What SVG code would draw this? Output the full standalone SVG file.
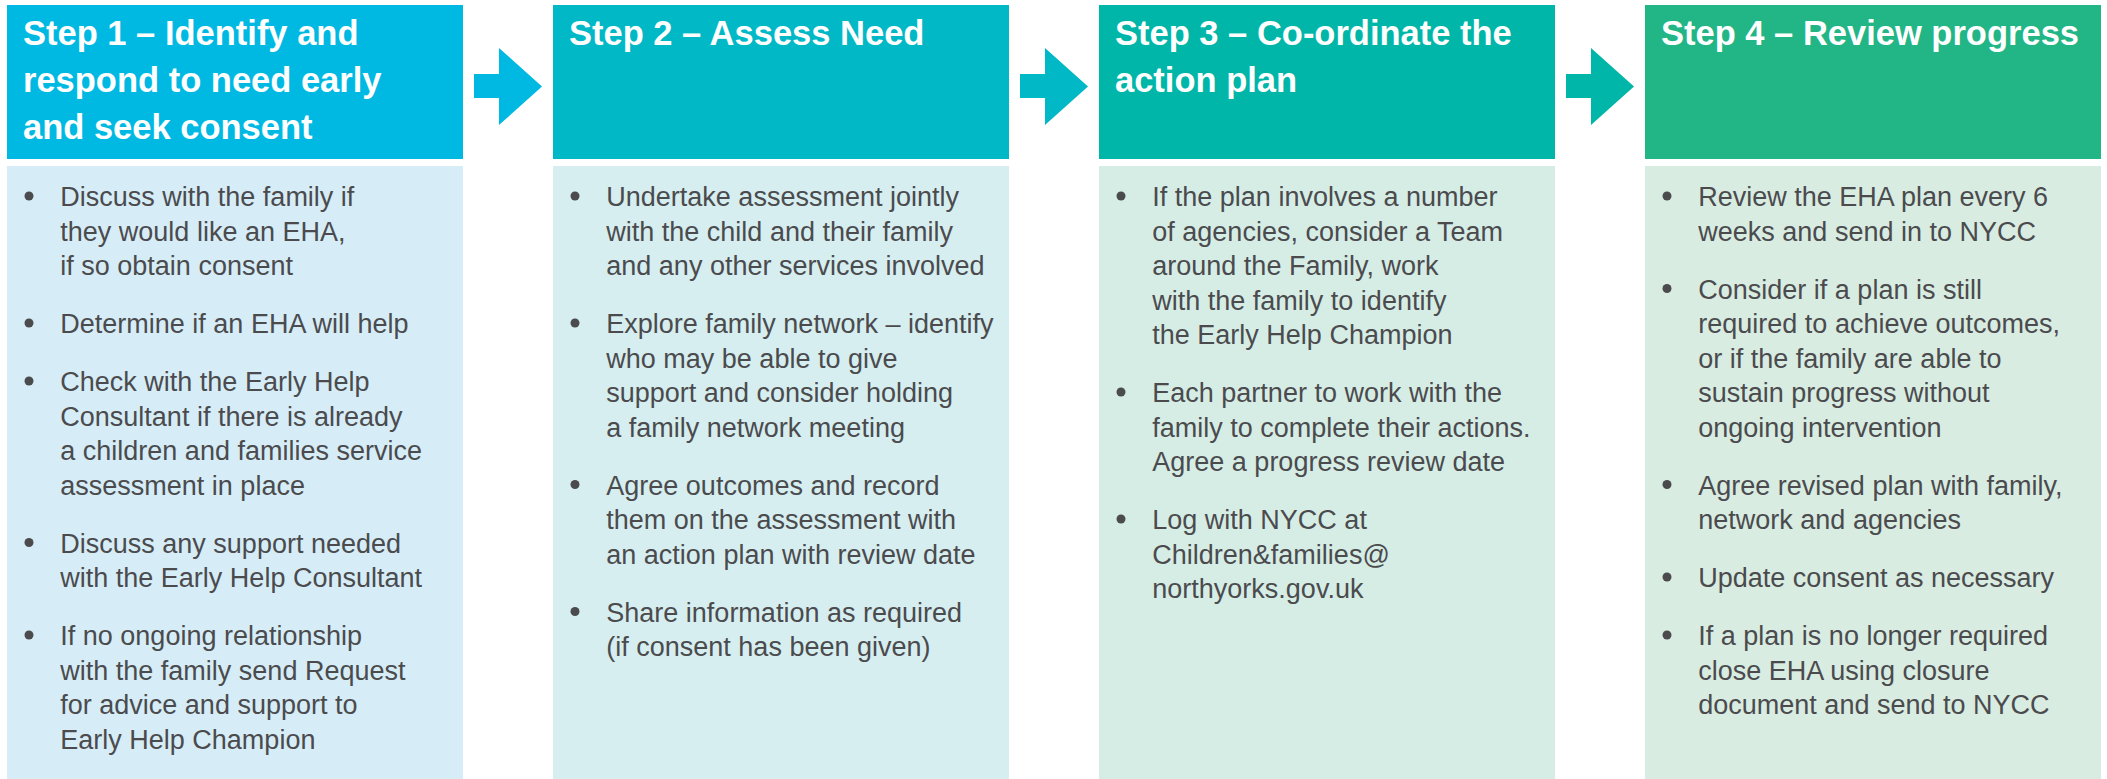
<svg xmlns="http://www.w3.org/2000/svg" width="2107" height="779" viewBox="0 0 2107 779">
<style>
.hd{font-family:"Liberation Sans",Arial,sans-serif;font-weight:bold;font-size:34.5px;fill:#ffffff}
.bd{font-family:"Liberation Sans",Arial,sans-serif;font-size:27px;fill:#4b4b4e}
.dot{fill:#4b4b4e}
</style>
<rect width="2107" height="779" fill="#ffffff"/>
<g id="connectors">
<path d="M474,74 H499 V48 L542,86.5 L499,125 V98 H474 Z" fill="#00b9e3"/>
<path d="M1020,74 H1045 V48 L1088,86.5 L1045,125 V98 H1020 Z" fill="#00b8c6"/>
<path d="M1566,74 H1591 V48 L1634,86.5 L1591,125 V98 H1566 Z" fill="#00b6a8"/>
</g>
<g id="step1">
<rect x="7" y="5" width="456" height="154" fill="#00b9e3"/>
<rect x="7" y="166" width="456" height="613" fill="#d6edf7"/>
<text class="hd" x="23" y="45">Step 1 – Identify and</text>
<text class="hd" x="23" y="92">respond to need early</text>
<text class="hd" x="23" y="139">and seek consent</text>
<circle class="dot" cx="29" cy="196" r="4.5"/>
<circle class="dot" cx="29" cy="323" r="4.5"/>
<circle class="dot" cx="29" cy="381" r="4.5"/>
<circle class="dot" cx="29" cy="542.5" r="4.5"/>
<circle class="dot" cx="29" cy="635" r="4.5"/>
<text class="bd" x="60.3" y="206">Discuss with the family if</text>
<text class="bd" x="60.3" y="240.5">they would like an EHA,</text>
<text class="bd" x="60.3" y="275">if so obtain consent</text>
<text class="bd" x="60.3" y="333">Determine if an EHA will help</text>
<text class="bd" x="60.3" y="391">Check with the Early Help</text>
<text class="bd" x="60.3" y="425.5">Consultant if there is already</text>
<text class="bd" x="60.3" y="460">a children and families service</text>
<text class="bd" x="60.3" y="494.5">assessment in place</text>
<text class="bd" x="60.3" y="552.5">Discuss any support needed</text>
<text class="bd" x="60.3" y="587">with the Early Help Consultant</text>
<text class="bd" x="60.3" y="645">If no ongoing relationship</text>
<text class="bd" x="60.3" y="679.5">with the family send Request</text>
<text class="bd" x="60.3" y="714">for advice and support to</text>
<text class="bd" x="60.3" y="748.5">Early Help Champion</text>
</g>
<g id="step2">
<rect x="553" y="5" width="456" height="154" fill="#00b8c6"/>
<rect x="553" y="166" width="456" height="613" fill="#d6eef0"/>
<text class="hd" x="569" y="45">Step 2 – Assess Need</text>
<circle class="dot" cx="575" cy="196" r="4.5"/>
<circle class="dot" cx="575" cy="323" r="4.5"/>
<circle class="dot" cx="575" cy="484.5" r="4.5"/>
<circle class="dot" cx="575" cy="611.5" r="4.5"/>
<text class="bd" x="606.3" y="206">Undertake assessment jointly</text>
<text class="bd" x="606.3" y="240.5">with the child and their family</text>
<text class="bd" x="606.3" y="275">and any other services involved</text>
<text class="bd" x="606.3" y="333">Explore family network – identify</text>
<text class="bd" x="606.3" y="367.5">who may be able to give</text>
<text class="bd" x="606.3" y="402">support and consider holding</text>
<text class="bd" x="606.3" y="436.5">a family network meeting</text>
<text class="bd" x="606.3" y="494.5">Agree outcomes and record</text>
<text class="bd" x="606.3" y="529">them on the assessment with</text>
<text class="bd" x="606.3" y="563.5">an action plan with review date</text>
<text class="bd" x="606.3" y="621.5">Share information as required</text>
<text class="bd" x="606.3" y="656">(if consent has been given)</text>
</g>
<g id="step3">
<rect x="1099" y="5" width="456" height="154" fill="#00b6a8"/>
<rect x="1099" y="166" width="456" height="613" fill="#d6ede6"/>
<text class="hd" x="1115" y="45">Step 3 – Co-ordinate the</text>
<text class="hd" x="1115" y="92">action plan</text>
<circle class="dot" cx="1121" cy="196" r="4.5"/>
<circle class="dot" cx="1121" cy="392" r="4.5"/>
<circle class="dot" cx="1121" cy="519" r="4.5"/>
<text class="bd" x="1152.3" y="206">If the plan involves a number</text>
<text class="bd" x="1152.3" y="240.5">of agencies, consider a Team</text>
<text class="bd" x="1152.3" y="275">around the Family, work</text>
<text class="bd" x="1152.3" y="309.5">with the family to identify</text>
<text class="bd" x="1152.3" y="344">the Early Help Champion</text>
<text class="bd" x="1152.3" y="402">Each partner to work with the</text>
<text class="bd" x="1152.3" y="436.5">family to complete their actions.</text>
<text class="bd" x="1152.3" y="471">Agree a progress review date</text>
<text class="bd" x="1152.3" y="529">Log with NYCC at</text>
<text class="bd" x="1152.3" y="563.5">Children&amp;families@</text>
<text class="bd" x="1152.3" y="598">northyorks.gov.uk</text>
</g>
<g id="step4">
<rect x="1645" y="5" width="456" height="154" fill="#22b586"/>
<rect x="1645" y="166" width="456" height="613" fill="#d8ece2"/>
<text class="hd" x="1661" y="45">Step 4 – Review progress</text>
<circle class="dot" cx="1667" cy="196" r="4.5"/>
<circle class="dot" cx="1667" cy="288.5" r="4.5"/>
<circle class="dot" cx="1667" cy="484.5" r="4.5"/>
<circle class="dot" cx="1667" cy="577" r="4.5"/>
<circle class="dot" cx="1667" cy="635" r="4.5"/>
<text class="bd" x="1698.3" y="206">Review the EHA plan every 6</text>
<text class="bd" x="1698.3" y="240.5">weeks and send in to NYCC</text>
<text class="bd" x="1698.3" y="298.5">Consider if a plan is still</text>
<text class="bd" x="1698.3" y="333">required to achieve outcomes,</text>
<text class="bd" x="1698.3" y="367.5">or if the family are able to</text>
<text class="bd" x="1698.3" y="402">sustain progress without</text>
<text class="bd" x="1698.3" y="436.5">ongoing intervention</text>
<text class="bd" x="1698.3" y="494.5">Agree revised plan with family,</text>
<text class="bd" x="1698.3" y="529">network and agencies</text>
<text class="bd" x="1698.3" y="587">Update consent as necessary</text>
<text class="bd" x="1698.3" y="645">If a plan is no longer required</text>
<text class="bd" x="1698.3" y="679.5">close EHA using closure</text>
<text class="bd" x="1698.3" y="714">document and send to NYCC</text>
</g>
</svg>
